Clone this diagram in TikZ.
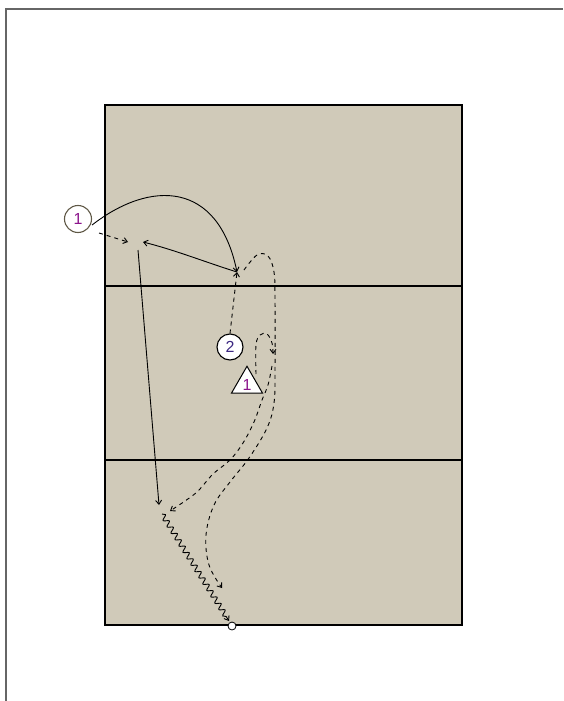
\documentclass[tikz,border=0pt]{standalone}
\usepackage{fontspec}
\setmainfont{Liberation Sans}
\usetikzlibrary{arrows.meta,decorations.pathmorphing,shapes.geometric}
\definecolor{court}{RGB}{208,202,185}
\definecolor{numA}{RGB}{140,20,140}
\definecolor{numB}{RGB}{60,40,130}
\definecolor{ringA}{RGB}{95,88,70}
\tikzset{
  conn/.style={line width=0.9pt,-{Straight Barb[length=4pt,width=6pt]}},
  dashconn/.style={conn,dash pattern=on 4pt off 4pt},
  courtline/.style={line width=2pt,black},
  player/.style={circle,draw,line width=1.1pt,fill=white,minimum size=27pt,inner sep=0pt,font=\fontsize{16}{16}\selectfont},
  defender/.style={isosceles triangle,isosceles triangle apex angle=60,shape border rotate=90,draw,line width=1pt,fill=white,minimum width=31pt,inner sep=0.5pt,font=\fontsize{16}{16}\selectfont},
}
\begin{document}
\begin{tikzpicture}[x=1pt,y=-1pt]
\useasboundingbox (0,0) rectangle (563,701);
% outer frame
\draw[line width=1.8pt,black!60] (6,701) -- (6,9) -- (563,9);
% court
\fill[court] (105,105) rectangle (462,625);
\draw[courtline] (105,105) rectangle (462,625);
\draw[courtline,line width=1.6pt] (105,286) -- (462,286);
\draw[courtline,line width=1.6pt] (105,460) -- (462,460);
% players
\node[player,draw=ringA,text=numA] (c1) at (78,219) {1};
\node[player,text=numB,minimum size=26pt] (c2) at (230,347) {2};
\node[defender,text=numA] (t1) at (247,385) {1};
% coordinates
\coordinate (ball) at (237,272);
\coordinate (s1) at (99,233);
\coordinate (e1) at (128,242);
\coordinate (p1) at (143,242);
\coordinate (r0) at (138,250);
\coordinate (r1) at (159,505);
\coordinate (w0) at (162,514);
\coordinate (w1) at (229,621);
% ball at the end
\node[circle,draw,fill=white,line width=0.8pt,minimum size=8pt,inner sep=0pt] (bl) at (232,626) {};
% solid curve from player 1
\draw[conn] (c1.east) ++(0,6) .. controls (150,180) and (218,180) .. (ball);
% pass back
\draw[conn] (ball) .. controls (205,262) and (175,250) .. (p1);
% short dashed
\draw[dashconn] (s1) -- (e1);
% long run
\draw[conn] (r0) -- (r1);
% player 2 to ball
\draw[dashconn] (c2.north) -- (ball);
% dashed path A
\draw[dashconn] plot[smooth,tension=0.6] coordinates {(244,270) (257,255) (268,256) (274,272) (275,300) (275,370) (274,403) (267,428) (249,458) (230,482) (214,505) (206,535) (209,565) (222,588)};
% dashed path B1
\draw[dashconn] plot[smooth,tension=0.6] coordinates {(256,374) (256,345) (260,335) (267,334) (272,343) (273,354)};
% dashed path B2
\draw[dashconn] plot[smooth,tension=0.6] coordinates {(272,366) (268,385) (262,400) (254,422) (243,443) (230,460) (213,474) (198,491) (185,501) (170,511)};
% dribble
\draw[line width=0.9pt,decorate,decoration={snake,amplitude=2.6pt,segment length=7.5pt,post length=5pt},-{Straight Barb[length=4pt,width=6pt]}] (w0) -- (w1);
\end{tikzpicture}
\end{document}
